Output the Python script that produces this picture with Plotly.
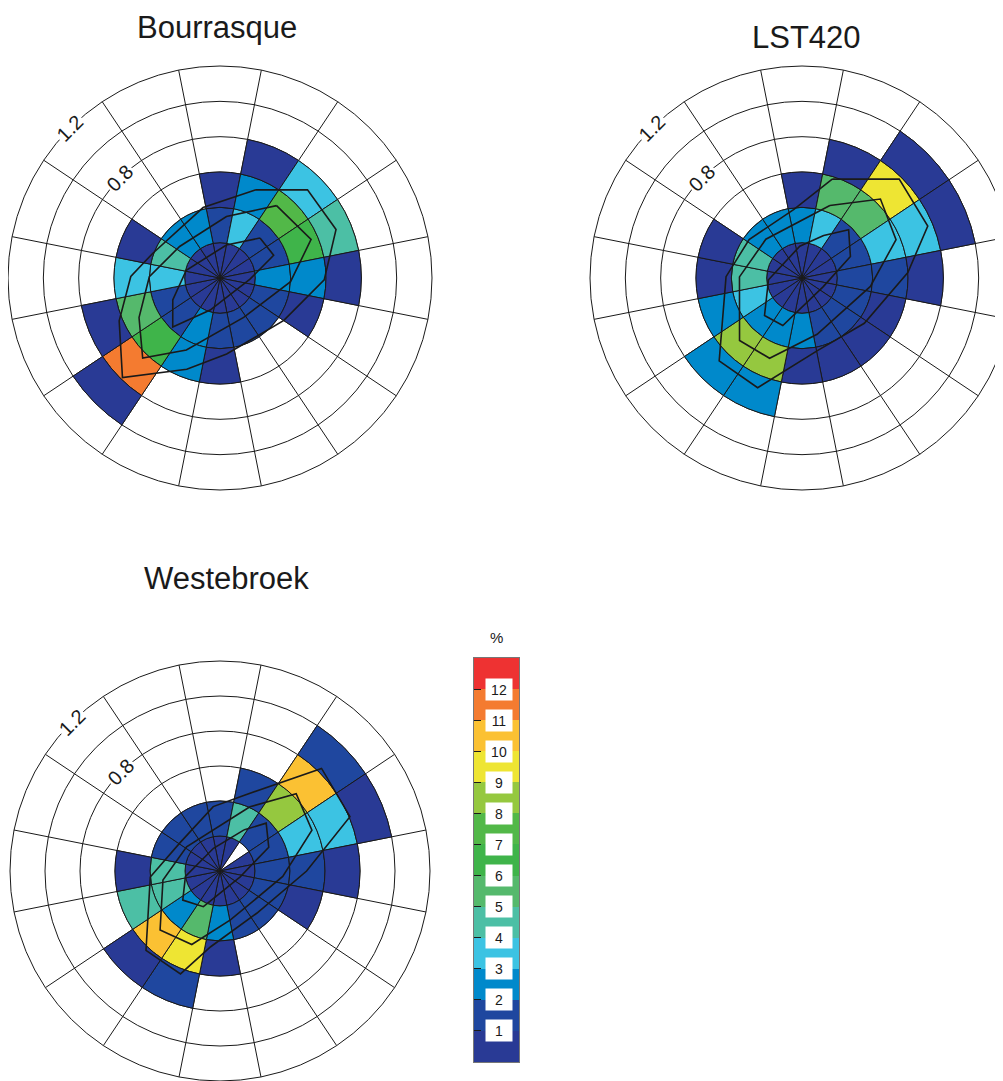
import plotly.graph_objects as go

# figure size; the page adds an 8px body margin, so screen = figure + 8
W, H = 1011, 1081
OFF = 8

# ---------------- data ----------------
sector_theta = [0, 22.5, 45, 67.5, 90, 112.5, 135, 157.5, 180, 202.5, 225, 247.5, 270, 292.5, 315, 337.5]
ring_edges = [0.0, 0.2, 0.4, 0.6, 0.8, 1.0, 1.2]
ring_ticks = [0.8, 1.2]
ring_tick_labels = ["0.8", "1.2"]

# percent frequency per sector (N, NNE, ... NNW), per ring from the centre outward (None = empty)
bourrasque_pct = [
    [0.5, 1.5, 0.5],
    [0.5, 3.5, 2.5, 0.5],
    [0.5, 1.5, 7.5, 3.5],
    [0.5, 1.5, 6.5, 4.5],
    [0.5, 2.5, 2.5, 0.5],
    [0.5, 1.5, 0.5],
    [0.5, 1.5],
    [0.5, 1.5],
    [0.5, 1.5, 0.5],
    [0.5, 2.5, 2.5],
    [0.5, 1.5, 6.5, 11.5, 0.5],
    [0.5, 1.5, 5.5, 0.5],
    [0.5, 3.5, 3.5],
    [0.5, 4.5, 0.5],
    [0.5, 2.5],
    [0.5, 2.5],
]
lst420_pct = [
    [0.5, 2.5, 0.5],
    [0.5, 3.5, 5.5, 0.5],
    [0.5, 1.5, 5.5, 9.5, 0.5],
    [0.5, 1.5, 3.5, 3.5, 0.5],
    [0.5, 1.5, 1.5, 0.5],
    [0.5, 1.5, 0.5],
    [0.5, 1.5, 0.5],
    [0.5, 1.5, 0.5],
    [0.5, 2.5, 0.5],
    [0.5, 2.5, 8.5, 2.5],
    [0.5, 2.5, 8.5, 2.5],
    [0.5, 3.5, 2.5],
    [0.5, 4.5, 0.5],
    [0.5, 4.5, 0.5],
    [0.5, 2.5],
    [0.5, 2.5],
]
westebroek_pct = [
    [0.5, 1.5],
    [0.5, 4.5, 1.5],
    [None, 1.5, 8.5, 10.5, 1.5],
    [0.5, 1.5, 3.5, 3.5, 0.5],
    [0.5, 1.5, 1.5, 0.5],
    [0.5, 1.5, 0.5],
    [0.5, 1.5],
    [0.5, 1.5],
    [0.5, 2.5, 0.5],
    [0.5, 5.5, 9.5, 1.5],
    [0.5, 2.5, 10.5, 0.5],
    [0.5, 4.5, 4.5],
    [0.5, 4.5, 0.5],
    [0.5, 1.5],
    [0.5, 1.5],
    [0.5, 1.5],
]

# contour polylines: (theta list, r list)
bourrasque_contours = [
    ([21.8, 44.8, 67.3, 91, 123.6, 175, 200, 224.4, 247, 271, 290, 346.5],
     [0.537, 0.703, 0.712, 0.59, 0.434, 0.432, 0.55, 0.789, 0.62, 0.505, 0.406, 0.41]),
    ([38, 67, 93, 149, 205, 224, 244, 271, 308, 6],
     [0.52, 0.56, 0.40, 0.26, 0.45, 0.63, 0.51, 0.40, 0.29, 0.35]),
    ([45, 67, 92, 197, 224, 245, 283, 11],
     [0.32, 0.33, 0.17, 0.19, 0.385, 0.295, 0.196, 0.19]),
]
lst420_contours = [
    ([17, 44.5, 67.6, 87, 126, 168, 202, 225, 271, 306, 353],
     [0.585, 0.785, 0.77, 0.60, 0.436, 0.42, 0.67, 0.663, 0.43, 0.37, 0.39]),
    ([21, 44.8, 67.8, 97, 165, 202, 225, 271, 317],
     [0.44, 0.63, 0.575, 0.39, 0.33, 0.49, 0.50, 0.354, 0.30]),
    ([27, 44, 66, 112, 202, 225, 267, 356],
     [0.27, 0.38, 0.30, 0.13, 0.29, 0.30, 0.19, 0.18]),
]
westebroek_contours = [
    ([17, 44.7, 67.3, 90, 139, 187, 201, 223, 265, 305, 354],
     [0.45, 0.825, 0.805, 0.495, 0.32, 0.436, 0.63, 0.62, 0.40, 0.28, 0.37]),
    ([25, 44.6, 66, 95, 168, 201, 225.5, 261, 306],
     [0.405, 0.62, 0.575, 0.36, 0.286, 0.45, 0.48, 0.33, 0.236]),
    ([30, 44, 64, 106, 205, 232, 261, 344],
     [0.27, 0.38, 0.31, 0.12, 0.225, 0.27, 0.20, 0.135]),
]

titles = ["Bourrasque", "LST420", "Westebroek"]

# colour classes 0-1, 1-2, ... 12-13 %
class_colors = ["#293A95", "#1F479F", "#0089CB", "#3CC3E3", "#4CBFA5", "#55B96C", "#3FB44A",
                "#52B848", "#95C83F", "#EEE533", "#FBC133", "#F47B30", "#EE3232"]
cbar_ticks = list(range(1, 13))

# ---------------- layout geometry (screen pixels) ----------------
panels = [
    dict(cx=220, cy=278, R=212, title_y=28, title_x=217),
    dict(cx=802, cy=278, R=212, title_y=37, title_x=806),
    dict(cx=220, cy=871, R=210, title_y=578, title_x=226),
]

def fx(px):
    return (px - OFF) / W

def fy(py):
    return 1 - (py - OFF) / H

nC = len(class_colors)
colorscale = []
for k, c in enumerate(class_colors):
    colorscale.append([k / nC, c])
    colorscale.append([(k + 1) / nC, c])

fig = go.Figure()

datasets = [(bourrasque_pct, bourrasque_contours),
            (lst420_pct, lst420_contours),
            (westebroek_pct, westebroek_contours)]

for i, (pct, contours) in enumerate(datasets):
    sub = "polar" if i == 0 else f"polar{i+1}"
    th, base, rr, col = [], [], [], []
    for s, rings in enumerate(pct):
        for j, v in enumerate(rings):
            if v is None:
                continue
            th.append(sector_theta[s])
            base.append(ring_edges[j])
            rr.append(ring_edges[j + 1] - ring_edges[j])
            col.append(v)
    fig.add_trace(go.Barpolar(
        theta=th, r=rr, base=base, width=[22.5] * len(th),
        marker=dict(color=col, colorscale=colorscale, cmin=0, cmax=nC,
                    line=dict(color="#1a1a1a", width=1)),
        subplot=sub, showlegend=False, hoverinfo="skip"))
    for cth, cr in contours:
        fig.add_trace(go.Scatterpolar(
            theta=cth + [cth[0]], r=cr + [cr[0]], mode="lines",
            line=dict(color="#1a1a1a", width=1.6),
            subplot=sub, showlegend=False, hoverinfo="skip"))

# colour bar as a heatmap column
fig.add_trace(go.Heatmap(
    z=[[k + 0.5] for k in range(nC)], y=[k + 0.5 for k in range(nC)], x=[0],
    colorscale=colorscale, zmin=0, zmax=nC, showscale=False,
    xaxis="x", yaxis="y", hoverinfo="skip"))

layout = dict(width=W, height=H, margin=dict(l=0, r=0, t=0, b=0),
              paper_bgcolor="white", plot_bgcolor="white", showlegend=False)

annotations = []
for i, p in enumerate(panels):
    key = "polar" if i == 0 else f"polar{i+1}"
    cx, cy, R = p["cx"], p["cy"], p["R"]
    layout[key] = dict(
        domain=dict(x=[fx(cx - R), fx(cx + R)],
                    y=[max(0.0, fy(cy + R)), fy(cy - R)]),
        bgcolor="white",
        angularaxis=dict(rotation=90, direction="clockwise", thetaunit="degrees",
                         tickmode="array", tickvals=[t + 11.25 for t in sector_theta],
                         showticklabels=False, ticks="", showgrid=True,
                         gridcolor="#1a1a1a", gridwidth=1, showline=True,
                         linecolor="#1a1a1a", linewidth=1),
        radialaxis=dict(range=[0, ring_edges[-1]], tickmode="array", tickvals=ring_edges[1:-1],
                        showticklabels=False, ticks="", showgrid=True,
                        gridcolor="#1a1a1a", gridwidth=1, showline=False),
    )
    annotations.append(dict(text=titles[i], x=fx(p["title_x"]), y=fy(p["title_y"]),
                            xref="paper", yref="paper", showarrow=False,
                            xanchor="center", yanchor="middle",
                            font=dict(family="Liberation Sans, Arial", size=31, color="#1a1a1a")))
    # ring labels placed on the rings along the NW direction
    for rv, lab in zip(ring_ticks, ring_tick_labels):
        rp = rv / ring_edges[-1] * R
        px = cx - rp * 0.7071
        py = cy - rp * 0.7071
        annotations.append(dict(text=lab, x=fx(px), y=fy(py), xref="paper", yref="paper",
                                showarrow=False, textangle=-45, bgcolor="white",
                                xanchor="center", yanchor="middle", borderpad=1,
                                font=dict(family="Liberation Sans, Arial", size=20, color="#1a1a1a")))

# colour bar axes
cb_x0, cb_x1, cb_y0, cb_y1 = 474, 519, 658, 1062
layout["xaxis"] = dict(domain=[fx(cb_x0), fx(cb_x1)], range=[-0.5, 0.5], showticklabels=False,
                       showgrid=False, zeroline=False, ticks="", showline=True, mirror=True,
                       linecolor="#777777", linewidth=1, fixedrange=True)
layout["yaxis"] = dict(domain=[fy(cb_y1), fy(cb_y0)], range=[0, nC],
                       tickmode="array", tickvals=cbar_ticks, showticklabels=False,
                       ticks="inside", ticklen=7, tickcolor="#1a1a1a", tickwidth=1,
                       showgrid=False, zeroline=False, showline=True, mirror=True,
                       linecolor="#777777", linewidth=1, fixedrange=True)
for t in cbar_ticks:
    annotations.append(dict(text=str(t), x=0.05, y=t, xref="x", yref="y", showarrow=False,
                            bgcolor="white", width=24, height=19, xanchor="center", yanchor="middle",
                            font=dict(family="Liberation Sans, Arial", size=14, color="#1a1a1a")))
annotations.append(dict(text="%", x=fx(496), y=fy(637), xref="paper", yref="paper",
                        showarrow=False, xanchor="center", yanchor="middle",
                        font=dict(family="Liberation Sans, Arial", size=15, color="#1a1a1a")))

layout["annotations"] = annotations
fig.update_layout(**layout)

fig.write_html("out.html")
